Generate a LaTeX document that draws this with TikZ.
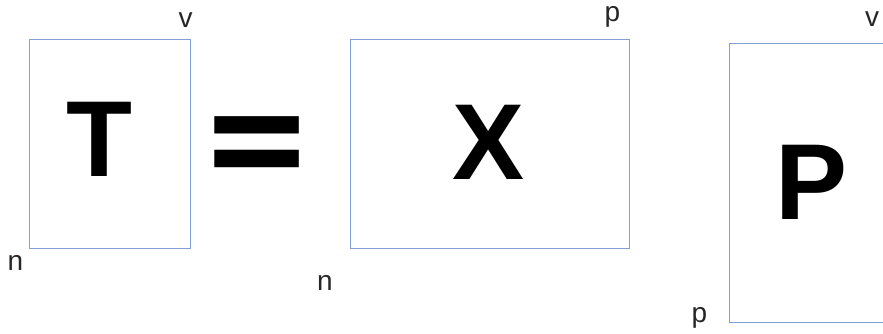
\documentclass[tikz,border=0pt]{standalone}
\usepackage{fontspec}
\setmainfont{Liberation Sans}
\newfontfamily\eqfont{DejaVu Sans}
\begin{document}
\begin{tikzpicture}[x=1pt,y=-1pt,
  matbox/.style={draw=boxblue, line width=0.8pt, rectangle, inner sep=0pt},
  bigletter/.style={inner sep=0pt, anchor=base, font=\fontsize{108}{108}\selectfont\bfseries},
  dimlabel/.style={inner sep=0pt, anchor=base, font=\fontsize{28}{28}\selectfont, text=black!85}]
\definecolor{boxblue}{RGB}{130,160,212}
\useasboundingbox (0,0) rectangle (883,334);
% boxes
\node[matbox, minimum width=161pt, minimum height=209pt] (Tbox) at (109.5,144) {};
\node[matbox, minimum width=279pt, minimum height=209pt] (Xbox) at (489.5,144) {};
\node[matbox, minimum width=170pt, minimum height=279pt] (Pbox) at (814,183) {};
% letters
\node[bigletter] (T) at (99.5,176) {T};
\node[bigletter] (X) at (489,179) {X};
\node[bigletter] (P) at (812,219) {P};
% equals sign
\node[inner sep=0pt, anchor=base, font=\fontsize{135}{135}\eqfont\bfseries] (eq) at (257,189.5) {\scalebox{1}[1.12]{=}};
% dimension labels
\node[dimlabel] (Tv) at (185.5,28) {v};
\node[dimlabel] (Tn) at (15.5,270) {n};
\node[dimlabel] (Xp) at (612.5,22) {p};
\node[dimlabel] (Xn) at (325,290) {n};
\node[dimlabel] (Pv) at (872,27) {v};
\node[dimlabel] (Pp) at (699.5,322) {p};
\end{tikzpicture}
\end{document}
